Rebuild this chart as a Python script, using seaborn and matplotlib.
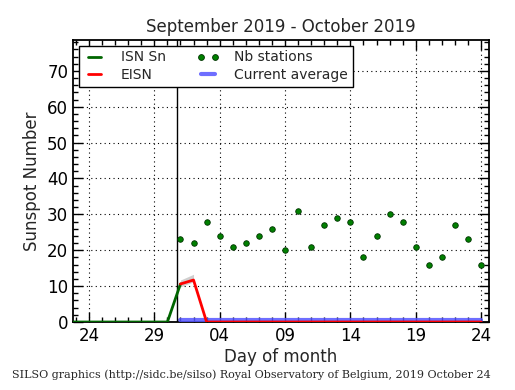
import numpy as np
import pandas as pd
import matplotlib
matplotlib.use("Agg")
import matplotlib.pyplot as plt
import seaborn as sns
from matplotlib.lines import Line2D
from matplotlib.ticker import MultipleLocator, FixedLocator

# Day index: 0 = 24 September 2019
isn_days = [-2, -1, 0, 1, 2, 3, 4, 5, 6, 7]
isn_vals = [0, 0, 0, 0, 0, 0, 0, 0, 0, 10.6]

eisn_days = list(range(7, 31))
eisn_vals = [10.6, 11.7] + [0] * 22
band_days = [7, 8]
band_low = [9.8, 11.2]
band_high = [11.7, 13.3]

avg_days = [7, 30]
avg_vals = [0.5, 0.5]

nb_days = list(range(7, 31))
nb_vals = [23, 22, 28, 24, 21, 22, 24, 26, 20, 31, 21, 27, 29, 28, 18, 24, 30, 28, 21, 16, 18, 27, 23, 16]

tick_pos = [0, 5, 10, 15, 20, 25, 30]
tick_labels = ["24", "29", "04", "09", "14", "19", "24"]
current_day_line = 6.7

sns.set_style("ticks")
plt.rcParams['font.family'] = ['DejaVu Sans']

fig = plt.figure(figsize=(5.15, 3.9), dpi=100)
ax = fig.add_axes([73/515, 1 - 322/390, (489-73)/515, (322-40)/390])

ax.fill_between(band_days, band_low, band_high, color="#bbbbbb", alpha=0.7, lw=0, zorder=2)
sns.lineplot(x=isn_days, y=isn_vals, ax=ax, color="#006600", lw=2, label="ISN Sn", zorder=4)
sns.lineplot(x=eisn_days, y=eisn_vals, ax=ax, color="red", lw=2, label="EISN", zorder=4)
sns.scatterplot(x=nb_days, y=nb_vals, ax=ax, color="green", s=16, edgecolor="#003300",
                linewidth=0.6, label="Nb stations", zorder=5)
sns.lineplot(x=avg_days, y=avg_vals, ax=ax, color="#5555ff", lw=3, alpha=0.85,
             label="Current average", zorder=3)
ax.axvline(current_day_line, color="black", lw=1, zorder=3)

ax.set_xlim(-1.22, 30.6)
ax.set_ylim(0, 78.6)
ax.xaxis.set_major_locator(FixedLocator(tick_pos))
ax.set_xticklabels(tick_labels)
ax.xaxis.set_minor_locator(MultipleLocator(1))
ax.yaxis.set_major_locator(MultipleLocator(10))
ax.yaxis.set_minor_locator(MultipleLocator(2))
ax.tick_params(which="both", direction="in", top=True, right=True, labelsize=12, colors="black")
ax.tick_params(which="major", length=7, width=1)
ax.tick_params(which="minor", length=3.5, width=1)
ax.grid(True, which="major", color="black", linestyle=(0, (1, 3)), lw=0.8)
for s in ax.spines.values():
    s.set_color("black")
    s.set_linewidth(1.3)

ax.set_title("September 2019 - October 2019", fontsize=12, pad=6)
ax.set_xlabel("Day of month", fontsize=12, labelpad=2)
ax.set_ylabel("Sunspot Number", fontsize=12, labelpad=4)

handles, labels = ax.get_legend_handles_labels()
nb_proxy = Line2D([], [], ls="none", marker="o", markersize=4.2, color="green",
                  markeredgecolor="#003300", markeredgewidth=0.6)
handles = [nb_proxy if l == "Nb stations" else h for h, l in zip(handles, labels)]
leg = ax.legend(handles, labels, ncol=2,
                loc="upper left", bbox_to_anchor=(0.0, 1.0), fontsize=10, frameon=True,
                fancybox=False, edgecolor="black", framealpha=1, borderaxespad=0.4,
                handlelength=1.6, columnspacing=2.2, handletextpad=1.1, labelspacing=0.25,
                borderpad=0.35, numpoints=2)
leg.get_frame().set_linewidth(1)

fig.text(12/515, 1 - 375/390, "SILSO graphics (http://sidc.be/silso) Royal Observatory of Belgium, 2019 October 24",
         family="DejaVu Serif", fontsize=8, va="center", ha="left")

fig.savefig("out.png", dpi=100)
